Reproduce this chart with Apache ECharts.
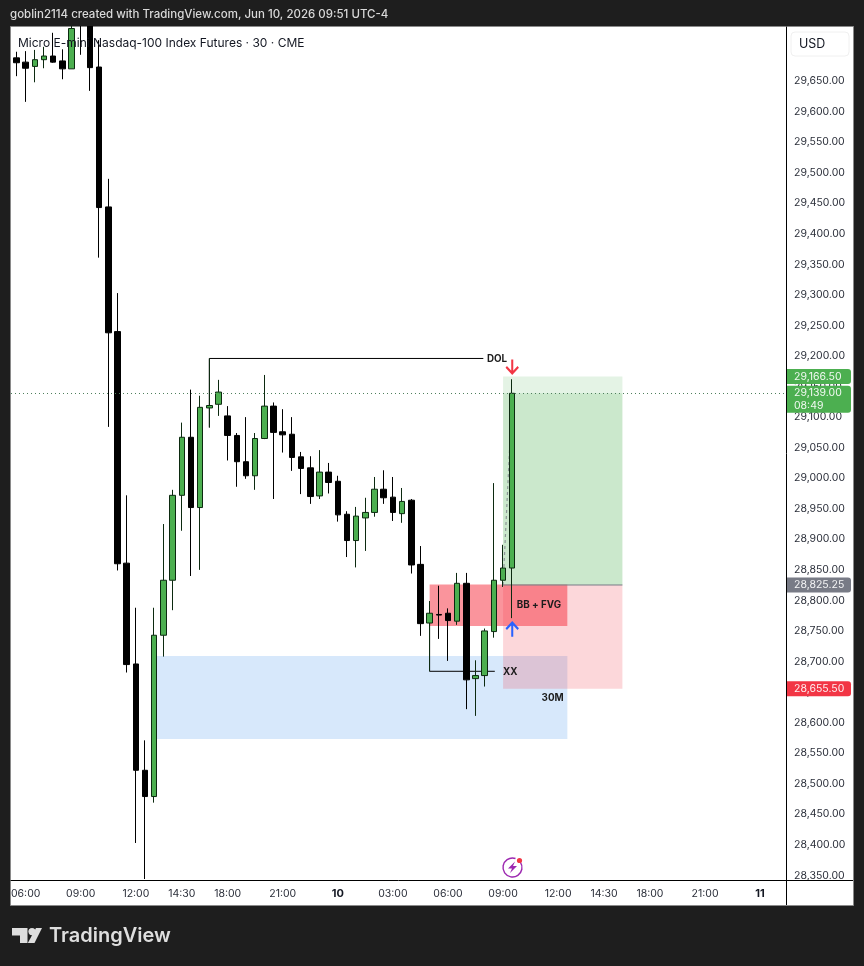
<!DOCTYPE html>
<html><head><meta charset="utf-8">
<style>html,body{margin:0;padding:0;background:#1e1e1e}#c{width:864px;height:966px}</style>
<script src="https://cdn.jsdelivr.net/npm/echarts@6/dist/echarts.min.js"></script>
</head><body><div id="c"></div>
<script>
// ---- data ----
const opens  = [29688,29681,29674,29685,29691,29683,29670,29790,29750,29673,29444,29240,28861,28696,28522,28479,28743,28833,28972,29067,28952,29115,29121,29102,29070,29027,29004,29065,29118,29076,29072,29035,29017,28971,29010,28995,28941,28898,28935,28944,28982,28969,28942,28964,28859,28763,28777,28779,28766,28828,28672,28677,28749,28833,28853];
const closes = [29680,29671,29685,29691,29681,29670,29736,29760,29672,29443,29238,28860,28695,28522,28479,28743,28833,28972,29067,28952,29116,29119,29141,29070,29027,29004,29065,29118,29075,29071,29034,29016,28970,29010,28993,28940,28898,28938,28944,28982,28968,28944,28962,28858,28762,28779,28776,28767,28828,28670,28677,28750,28833,28853,29139];
const lows   = [29658,29616,29648,29671,29680,29653,29670,29693,29634,29361,29084,28849,28682,28403,28344,28469,28708,28784,28914,28840,28850,29083,29102,29029,28986,28999,28981,29064,28966,29042,29012,28974,28958,28966,28975,28929,28871,28854,28881,28937,28958,28930,28927,28844,28742,28684,28737,28701,28760,28622,28611,28659,28739,28822,28771];
const highs  = [29698,29699,29701,29706,29729,29702,29770,29800,29765,29717,29490,29303,28972,28788,28571,28788,28925,28981,29091,29145,29135,29196,29161,29118,29074,29100,29074,29169,29124,29113,29100,29043,29036,29046,29025,29004,28946,28953,28968,29002,29013,29002,28984,28966,28889,28799,28824,28787,28845,28845,28702,28754,28992,28891,29162];

const timeTickBars   = [1,7,13,18,23,29,35,41,47,53,59,64,69,75,81];
const timeTickLabels = ['06:00','09:00','12:00','14:30','18:00','21:00','10','03:00','06:00','09:00','12:00','14:30','18:00','21:00','11'];
const priceTicks = [29650,29600,29550,29500,29450,29400,29350,29300,29250,29200,29150,29100,29050,29000,28950,28900,28850,28800,28750,28700,28650,28600,28550,28500,28450,28400,28350];

const headerText = 'goblin2114 created with TradingView.com, Jun 10, 2026 09:51 UTC-4';
const titleText  = 'Micro E-mini Nasdaq-100 Index Futures · 30 · CME';

const lastPrice = 29139;
const targetPrice = 29166.5;
const entryPrice = 28825.25;
const stopPrice = 28655.5;
const fvgTop = 28826, fvgBottom = 28758;
const blueTop = 28709, blueBottom = 28573;
const dolPrice = 29196, xxPrice = 28684;

// [fromBar, toBar, priceA, priceB, fill]
const zones = [
  [15, 60, blueTop, blueBottom, 'rgba(160,200,245,0.42)'],
  [53, 66, entryPrice, stopPrice, 'rgba(242,54,69,0.2)'],
  [45, 60, fvgTop, fvgBottom, 'rgba(245,60,75,0.55)'],
  [53, 66, lastPrice, entryPrice, 'rgba(76,175,80,0.29)'],
  [53, 66, targetPrice, lastPrice, 'rgba(76,175,80,0.15)']
];
// [price, line1, line2, fill]
const priceTags = [
  [targetPrice, '29,166.50', '', '#4caf50'],
  [lastPrice, '29,139.00', '08:49', '#4caf50'],
  [entryPrice, '28,825.25', '', '#787b86'],
  [stopPrice, '28,655.50', '', '#f23645']
];
const noteBars   = [51.25, 54.5, 53.0, 57.2];
const notePrices = [29195, 28793, 28682, 28641];
const noteTexts  = ['DOL', 'BB + FVG', 'XX', '30M'];
const FONT = 'Inter, "Liberation Sans", sans-serif';
const ARROW_DOWN = 'path://M6 0 L6 12 M0 7 L6 13 L12 7';
const candles = opens.map((o,i)=>[i,o,closes[i],lows[i],highs[i]]);

const chart = echarts.init(document.getElementById('c'),null,{renderer:'canvas'});
const tagW = 64;
chart.setOption({
  animation:false,
  backgroundColor:'#1e1e1e',
  grid:{left:11,top:27,width:775,height:853,containLabel:false},
  xAxis:{type:'value',min:-0.6,max:83.82,
    axisLine:{show:true,onZero:false,lineStyle:{color:'#000',width:1}},
    axisTick:{show:false},splitLine:{show:false},
    axisLabel:{customValues:timeTickBars,margin:8,color:'#2a2e39',fontFamily:FONT,fontSize:10.5,
      hideOverlap:false,showMinLabel:true,showMaxLabel:true,
      formatter:v=>{const s=timeTickLabels[timeTickBars.indexOf(v)];return s.length<3?'{b|'+s+'}':s;},
      rich:{b:{fontWeight:700,color:'#131722',fontFamily:FONT,fontSize:11}}}},
  yAxis:{type:'value',position:'right',min:28342.4,max:29738.5,
    axisLine:{show:true,onZero:false,lineStyle:{color:'#000',width:1}},
    axisTick:{show:false},splitLine:{show:false},
    axisLabel:{customValues:priceTicks,margin:8,color:'#2a2e39',fontFamily:FONT,fontSize:10.5,
      formatter:v=>v.toLocaleString('en-US',{minimumFractionDigits:2,maximumFractionDigits:2})}},
  series:[
    {type:'custom',name:'zones',z:1,clip:true,silent:true,
     encode:{x:[0,1],y:[2,3]},data:zones,
     renderItem:(p,api)=>{
       const a=api.coord([api.value(0),api.value(2)]),b=api.coord([api.value(1),api.value(3)]);
       return {type:'rect',shape:{x:a[0],y:a[1],width:b[0]-a[0],height:b[1]-a[1]},
         style:{fill:zones[p.dataIndex][4]}};
     }},
    {type:'line',name:'entry',z:2,silent:true,symbol:'none',lineStyle:{color:'#787b86',width:1},
     data:[[53,entryPrice],[66,entryPrice]]},
    {type:'line',name:'trade path',z:2,silent:true,symbol:'none',lineStyle:{color:'#787b86',width:1.2,type:[3,3],opacity:.75},
     data:[[53,entryPrice],[54,lastPrice]]},
    {type:'line',name:'DOL',z:3,silent:true,symbol:'none',lineStyle:{color:'#000',width:1},
     data:[[21,lows[21]],[21,dolPrice],[50.85,dolPrice]]},
    {type:'line',name:'XX',z:3,silent:true,symbol:'none',lineStyle:{color:'#000',width:1},
     data:[[45,opens[45]],[45,xxPrice],[52.1,xxPrice]]},
    {type:'candlestick',name:'MNQ',z:4,barWidth:6,silent:true,data:candles,
     itemStyle:{color:'#4caf50',color0:'#000',borderColor:'#0c2a10',borderColor0:'#000',borderWidth:1},
     markLine:{silent:true,symbol:'none',animation:false,label:{show:false},
       lineStyle:{color:'#4f7f5c',width:1,type:[1,3]},data:[{yAxis:lastPrice}]}},
    {type:'scatter',name:'short arrow',z:6,silent:true,symbol:ARROW_DOWN,symbolSize:[12,14],
     itemStyle:{opacity:1,color:'rgba(0,0,0,0)',borderColor:'#f23645',borderWidth:2.2},
     data:[[54,29183]]},
    {type:'scatter',name:'long arrow',z:6,silent:true,symbol:ARROW_DOWN,symbolRotate:180,symbolSize:[12,14],
     itemStyle:{opacity:1,color:'rgba(0,0,0,0)',borderColor:'#2962ff',borderWidth:2.2},
     data:[[54,28752]]},
    {type:'custom',name:'annotations',z:7,clip:false,silent:true,
     encode:{x:0,y:1},
     data:noteBars.map((b,i)=>[b,notePrices[i]]),
     renderItem:(p,api)=>{
       const c=api.coord([api.value(0),api.value(1)]);
       return {type:'text',x:c[0],y:c[1],style:{text:noteTexts[p.dataIndex],
         fill:'#1c1c1c',font:'700 9.8px '+FONT,textAlign:'left',textVerticalAlign:'middle'}};
     }},
    {type:'custom',name:'tags',z:9,clip:false,silent:true,encode:{y:0},
     data:priceTags.map(t=>[t[0]]),
     renderItem:(p,api)=>{
       const t=priceTags[p.dataIndex],y=api.coord([0,t[0]])[1];
       const two=!!t[2],h=two?27:15,top=y-7.5;
       const kids=[{type:'rect',shape:{x:787,y:top,width:tagW,height:h,r:[0,3,3,0]},style:{fill:t[3]}},
         {type:'text',x:794,y:top+7.5,style:{text:t[1],fill:'#fff',font:'10.5px '+FONT,textVerticalAlign:'middle',opacity:.92}}];
       if(two)kids.push({type:'text',x:794,y:top+20,style:{text:t[2],fill:'#fff',font:'10.5px '+FONT,textVerticalAlign:'middle',opacity:.92}});
       return {type:'group',children:kids};
     }}
  ],
  graphic:{elements:[
    {type:'rect',z:-10,silent:true,shape:{x:10.5,y:26.5,width:843,height:879},style:{fill:'#fff',stroke:'#8a8a8a',lineWidth:1}},
    {type:'rect',z:8,silent:true,shape:{x:0,y:0,width:864,height:26},style:{fill:'#1e1e1e'}},
    {type:'line',z:10,silent:true,shape:{x1:786,y1:880.5,x2:853,y2:880.5},style:{stroke:'#000',lineWidth:1}},
    {type:'line',z:10,silent:true,shape:{x1:786.5,y1:880,x2:786.5,y2:905},style:{stroke:'#000',lineWidth:1}},
    {type:'text',z:10,silent:true,x:10,y:15,style:{text:headerText,fill:'#d9d9d9',font:'500 11.5px '+FONT,textVerticalAlign:'middle'}},
    {type:'text',z:10,silent:true,x:18,y:43,style:{text:titleText,fill:'#131722',font:'12px '+FONT,textVerticalAlign:'middle'}},
    {type:'rect',z:10,silent:true,shape:{x:791,y:32,width:58,height:24,r:4},style:{fill:'#fff',stroke:'#f0f0f0',lineWidth:1}},
    {type:'text',z:11,silent:true,x:799,y:44,style:{text:'USD',fill:'#131722',font:'12.5px '+FONT,textVerticalAlign:'middle'}},
    // replay icon
    {type:'arc',z:10,silent:true,shape:{cx:512.5,cy:867.5,r:9.5,startAngle:-0.6,endAngle:-1.25,clockwise:true},style:{stroke:'#9c27b0',fill:'none',lineWidth:1.4}},
    {type:'polygon',z:10,silent:true,shape:{points:[[515,861.5],[508,868.5],[512,868.5],[510,873],[517,866],[513,866]]},style:{fill:'#9c27b0'}},
    {type:'circle',z:11,silent:true,shape:{cx:519.5,cy:860.5,r:2.6},style:{fill:'#f23645'}},
    // TradingView mark
    {type:'polygon',z:10,silent:true,shape:{points:[[12,928],[27.5,928],[27.5,943],[20,943],[20,935.5],[12,935.5]]},style:{fill:'#dedede'}},
    {type:'circle',z:10,silent:true,shape:{cx:32,cy:931.6,r:3.6},style:{fill:'#dedede'}},
    {type:'polygon',z:10,silent:true,shape:{points:[[36,928],[42,928],[34.5,943],[27.8,943]]},style:{fill:'#dedede'}},
    {type:'text',z:10,silent:true,x:49,y:936,style:{text:'TradingView',fill:'#dedede',font:'600 20px '+FONT,textVerticalAlign:'middle'}}
  ]}
});
</script></body></html>
